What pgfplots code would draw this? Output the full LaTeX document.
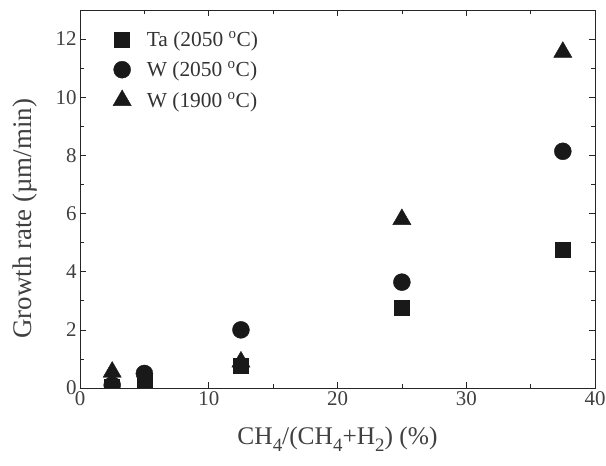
\documentclass[border=0pt]{standalone}
\usepackage{pgfplots}
\pgfplotsset{compat=1.18}
\usepackage{fontspec}
\setmainfont{Liberation Serif}
\newcommand\sub[1]{\raisebox{-0.55ex}{\fontsize{19}{19}\selectfont #1}}
\pgfplotsset{mylegimg/.style={legend image code/.code={%
  \draw[##1] plot coordinates {(0.3cm,0cm)};
  \path[draw=none,fill=none] (0cm,0cm) rectangle (1.1cm,0cm);}}}
\begin{document}
\begin{tikzpicture}
\begin{axis}[
  name=ax,
  scale only axis,
  width=515bp, height=378bp,
  xmin=0, xmax=40, ymin=0, ymax=13,
  xtick={0,10,20,30,40},
  ytick={0,2,4,6,8,10,12},
  minor xtick={5,15,25,35},
  minor ytick={1,3,5,7,9,11},
  tick align=inside,
  major tick length=6bp, minor tick length=4bp,
  tick style={black!85, line width=0.6pt},
  axis line style={black!85, line width=0.8pt},
  /pgf/number format/assume math mode=true,
  tick label style={font=\fontsize{21}{24}\selectfont, text=black!75},
  xlabel={CH\sub{4}/(CH\sub{4}+H\sub{2}) (\%)},
  ylabel={Growth rate (\textmu m/min)},
  xlabel style={font=\fontsize{25.5}{29}\selectfont, text=black!75,
    at={(rel axis cs:0.5,-0.135)}, anchor=center},
  ylabel style={font=\fontsize{27}{30}\selectfont, text=black!75,
    at={(rel axis cs:-0.107,0.448)}, anchor=center},
  clip mode=individual,
  clip marker paths=true,
  legend style={draw=none, fill=none, at={(0.058,0.955)}, anchor=north west,
    font=\fontsize{21.5}{25}\selectfont, text=black!80, row sep=10bp},
  legend cell align=left,
]
\addplot[only marks, mark=square*, mark size=7.5bp, black!90, mylegimg] coordinates {
 (2.5,0.05) (5,0.2) (12.5,0.77) (25,2.75) (37.5,4.74)};
\addlegendentry{Ta (2050 \textsuperscript{o}C)}
\addplot[only marks, mark=*, mark size=8.5bp, black!90, mylegimg] coordinates {
 (2.5,0.1) (5,0.5) (12.5,2.0) (25,3.64) (37.5,8.14)};
\addlegendentry{W (2050 \textsuperscript{o}C)}
\addplot[only marks, mark=triangle*, mark size=10.5bp, black!90, mylegimg] coordinates {
 (2.5,0.55) (12.5,0.9) (25,5.8) (37.5,11.55)};
\addlegendentry{W (1900 \textsuperscript{o}C)}
\end{axis}
\pgfresetboundingbox
\path (ax.south west) ++(-80bp,-78bp) rectangle ([shift={(11bp,10bp)}]ax.north east);
\end{tikzpicture}
\end{document}
